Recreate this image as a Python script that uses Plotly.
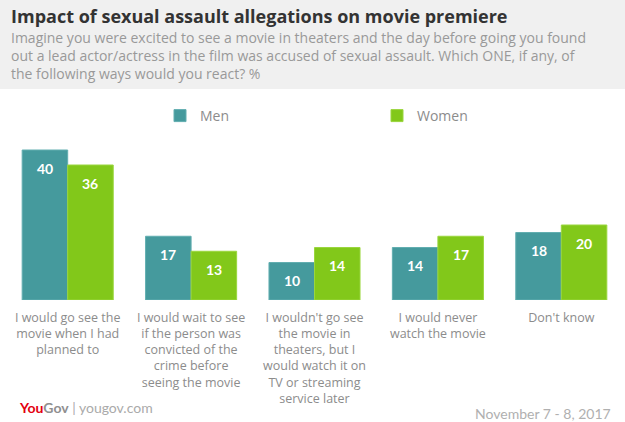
import plotly.graph_objects as go

categories = [
    "I would go see the<br>movie when I had<br>planned to",
    "I would wait to see<br>if the person was<br>convicted of the<br>crime before<br>seeing the movie",
    "I wouldn't go see<br>the movie in<br>theaters, but I<br>would watch it on<br>TV or streaming<br>service later",
    "I would never<br>watch the movie",
    "Don't know",
]
men = [40, 17, 10, 14, 18]
women = [36, 13, 14, 17, 20]
series_names = ["Men", "Women"]

title = "Impact of sexual assault allegations on movie premiere"
subtitle_lines = [
    "Imagine you were excited to see a movie in theaters and the day before going you found",
    "out a lead actor/actress in the film was accused of sexual assault. Which ONE, if any, of",
    "the following ways would you react? %",
]
date_text = "November 7 - 8, 2017"

MEN_C = "#459a9d"
WOMEN_C = "#82c81a"
GRAY = "#8c8c8c"
FONT = "Open Sans"
FONT2 = "Lato"

W, H = 625, 422
L, R, T, B = 6, 2, 100, 122
PW, PH = W - L - R, H - T - B


def px(x):
    return (x - L) / PW


def py(y):
    return (H - B - y) / PH


fig = go.Figure()
fig.add_bar(x=categories, y=men, name=series_names[0], marker=dict(color=MEN_C, line=dict(color="#62aeb0", width=1)))
fig.add_bar(x=categories, y=women, name=series_names[1], marker=dict(color=WOMEN_C, line=dict(color="#9ad63e", width=1)))

annotations = []
bw = PW / len(categories) * (1 - 0.262) / 2
for cat, m, w in zip(categories, men, women):
    for val, sh in ((m, -bw / 2), (w, bw / 2)):
        annotations.append(dict(x=cat, y=val, xref="x", yref="y", text=str(val), showarrow=False,
                                xshift=sh, yshift=-18, yanchor="middle",
                                font=dict(family=FONT2, size=14, color="white", weight="bold")))

annotations.append(dict(x=px(9), y=py(16), xref="paper", yref="paper", xanchor="left", yanchor="middle",
                        text="<b>" + title + "</b>", showarrow=False,
                        font=dict(family=FONT, size=18, color="#333333")))
annotations.append(dict(x=px(9), y=py(26), xref="paper", yref="paper", xanchor="left", yanchor="top",
                        align="left", text="<br>".join(subtitle_lines), showarrow=False,
                        font=dict(family=FONT, size=14, color="#999999")))
annotations += [
    dict(x=px(17), y=py(407), xref="paper", yref="paper", xanchor="left", yanchor="middle",
         text="<span style='color:#e3000f'><b>You</b></span><span style='color:#8f8f8f'><b>Gov</b></span>"
              "<span style='color:#aaaaaa'> | yougov.com</span>",
         showarrow=False, font=dict(family=FONT2, size=14, color="#aaaaaa")),
    dict(x=px(613), y=py(414), xref="paper", yref="paper", xanchor="right", yanchor="middle",
         text=date_text, showarrow=False, font=dict(family=FONT2, size=14, color="#b0b0b0")),
]

fig.update_layout(
    width=W, height=H,
    margin=dict(l=L, r=R, t=T, b=B, pad=0),
    paper_bgcolor="white", plot_bgcolor="white",
    barmode="group", bargap=0.262, bargroupgap=0,
    font=dict(family=FONT, color=GRAY),
    showlegend=True,
    legend=dict(orientation="h", x=px(160), y=py(116), xanchor="left", yanchor="middle",
                entrywidth=172, entrywidthmode="pixels", bgcolor="rgba(0,0,0,0)",
                font=dict(family=FONT, size=14, color=GRAY), itemclick=False),
    xaxis=dict(showgrid=False, zeroline=False, showline=False, ticks="", ticklabelstandoff=8,
               tickfont=dict(family=FONT, size=12.5, color=GRAY), fixedrange=True),
    yaxis=dict(range=[0, PH / 3.75], visible=False, fixedrange=True),
    annotations=annotations,
    shapes=[dict(type="rect", xref="paper", yref="paper", x0=px(-5), x1=px(W + 5), y0=py(89), y1=py(-5),
                 fillcolor="#f0f0f0", line=dict(width=0), layer="below")],
)

fig.write_html("out.html")
